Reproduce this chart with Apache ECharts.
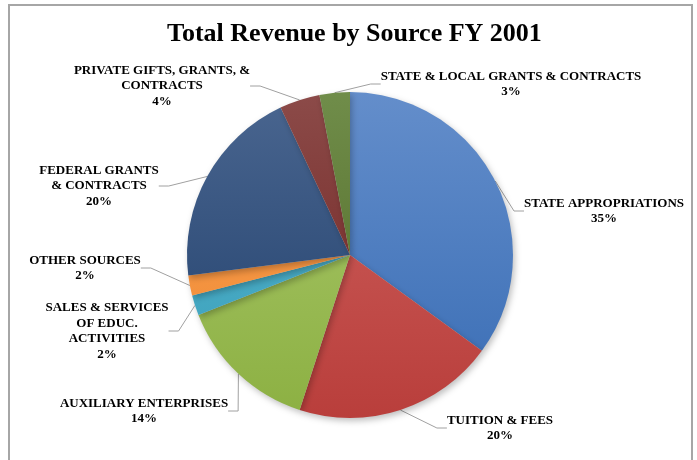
<!DOCTYPE html>
<html>
<head>
<meta charset="utf-8">
<script src="https://cdn.jsdelivr.net/npm/echarts@6/dist/echarts.min.js"></script>
<style>
html,body{margin:0;padding:0;background:#fff;}
#chart{width:697px;height:460px;}
</style>
</head>
<body>
<div id="chart"></div>
<script>
// ---- data ----
var titleText = 'Total Revenue by Source FY 2001';
var categories = [
  'STATE APPROPRIATIONS',
  'TUITION & FEES',
  'AUXILIARY ENTERPRISES',
  'SALES & SERVICES\nOF EDUC.\nACTIVITIES',
  'OTHER SOURCES',
  'FEDERAL GRANTS\n& CONTRACTS',
  'PRIVATE GIFTS, GRANTS, &\nCONTRACTS',
  'STATE & LOCAL GRANTS & CONTRACTS'
];
var percents = [35, 20, 14, 2, 2, 20, 4, 3];

// ---- styles ----
var gradColors = [
  ['#648ecb', '#386cb4'],
  ['#cf6360', '#b93e3b'],
  ['#abc96e', '#8cb042'],
  ['#55b3cc', '#3aa0bb'],
  ['#f99f55', '#f08a30'],
  ['#4a6690', '#1f3e6a'],
  ['#8c4b49', '#6e1f1d'],
  ['#708d4a', '#4e6724']
];
// label block positions [x center, y middle]
var labelPos = [
  [604, 211], [500, 428], [144, 411], [107, 331],
  [85, 268], [99, 186], [162, 86], [511, 84]
];

var chart = echarts.init(document.getElementById('chart'), null, {renderer: 'canvas'});

var dataItems = categories.map(function (name, i) {
  return {
    name: name,
    value: percents[i],
    itemStyle: {
      color: new echarts.graphic.LinearGradient(0, 90, 0, 420, [
        {offset: 0, color: gradColors[i][0]},
        {offset: 1, color: gradColors[i][1]}
      ], true)
    }
  };
});

chart.setOption({
  animation: false,
  title: {
    text: titleText,
    left: 162,
    top: 16,
    textStyle: {
      fontFamily: 'Liberation Serif',
      fontWeight: 'bold',
      fontSize: 26,
      color: '#000'
    }
  },
  graphic: [{
    type: 'rect',
    shape: {x: 9, y: 5, width: 683, height: 470},
    style: {fill: 'none', stroke: '#a6a6a6', lineWidth: 2},
    silent: true,
    z: -1
  }],
  series: [{
    type: 'pie',
    center: [350, 255],
    radius: 163,
    startAngle: 90,
    clockwise: true,
    avoidLabelOverlap: false,
    itemStyle: {
      shadowBlur: 6,
      shadowOffsetX: 2,
      shadowOffsetY: 3,
      shadowColor: 'rgba(0,0,0,0.25)'
    },
    label: {
      show: true,
      formatter: function (p) { return p.name + '\n' + p.value + '%'; },
      fontFamily: 'Liberation Serif',
      fontWeight: 'bold',
      fontSize: 13,
      lineHeight: 15.5,
      color: '#000',
      align: 'center'
    },
    labelLine: {
      show: true,
      length: 15,
      length2: 10,
      lineStyle: {color: '#a0a0a0', width: 1}
    },
    labelLayout: function (params) {
      var p = labelPos[params.dataIndex];
      return {
        x: p[0],
        y: p[1],
        align: 'center',
        verticalAlign: 'middle'
      };
    },
    data: dataItems
  }]
});
</script>
</body>
</html>
